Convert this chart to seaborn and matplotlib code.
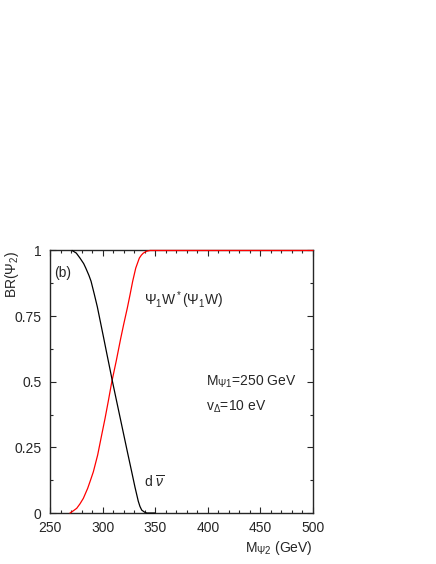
"""
Branching ratios of Psi_2 versus its mass (panel b).
"""

import matplotlib
matplotlib.use('Agg')
import matplotlib.pyplot as plt
from matplotlib.ticker import MultipleLocator
import pandas as pd
import seaborn as sns

# values
mass_red = [269, 272, 275.4, 278.5, 281.7, 285.8, 288.5, 291.2, 295.3, 299, 302.3, 305.5, 308.6,
            313, 317.2, 320, 323.5, 326, 328.6, 331.5, 334.9, 336.8, 338.7, 341.9, 345, 348, 500]
br_psi1_w = [0.0, 0.008, 0.018, 0.035, 0.056, 0.094, 0.125, 0.157, 0.221, 0.295, 0.36, 0.428, 0.497,
             0.58, 0.665, 0.718, 0.781, 0.83, 0.883, 0.933, 0.971, 0.982, 0.990, 0.997, 1.0, 1.0, 1.0]

mass_black = [271, 275, 278.5, 282, 284, 287, 289, 292, 295, 298, 301, 304, 307, 309.3, 313, 316.5,
              320, 323.5, 327.6, 330.8, 333.9, 335.5, 337.2, 340, 342, 350]
br_d_nubar = [1.0, 0.99, 0.971, 0.95, 0.933, 0.905, 0.883, 0.835, 0.785, 0.726, 0.667, 0.607, 0.548,
              0.502, 0.432, 0.366, 0.300, 0.234, 0.158, 0.098, 0.045, 0.025, 0.011, 0.003, 0.0, 0.0]

x_ticks = [250, 300, 350, 400, 450, 500]
y_ticks = [0, 0.25, 0.5, 0.75, 1]
y_tick_labels = ['0', '0.25', '0.5', '0.75', '1']

sns.set_style('ticks')
plt.rcParams['font.family'] = ['Liberation Sans', 'DejaVu Sans']
plt.rcParams['mathtext.fontset'] = 'custom'
plt.rcParams['mathtext.rm'] = 'Liberation Sans'
plt.rcParams['mathtext.it'] = 'Liberation Sans:italic'
plt.rcParams['mathtext.default'] = 'regular'

fig = plt.figure(figsize=(4.36, 5.64), dpi=100)
ax = fig.add_axes([0.1147, 0.0904, 0.6032, 0.4655])

df_red = pd.DataFrame({'mass': mass_red, 'br': br_psi1_w})
df_black = pd.DataFrame({'mass': mass_black, 'br': br_d_nubar})
sns.lineplot(data=df_red, x='mass', y='br', ax=ax, color='red', lw=0.9, zorder=3, clip_on=False)
sns.lineplot(data=df_black, x='mass', y='br', ax=ax, color='black', lw=0.9, zorder=3, clip_on=False)

ax.set_xlim(250, 500)
ax.set_ylim(0, 1)
ax.set_xticks(x_ticks)
ax.set_yticks(y_ticks)
ax.set_yticklabels(y_tick_labels)
ax.xaxis.set_minor_locator(MultipleLocator(10))
ax.yaxis.set_minor_locator(MultipleLocator(0.125))
ax.tick_params(which='both', direction='in', top=True, right=True, labelsize=10, width=0.8, pad=6)
ax.tick_params(which='major', length=4.5)
ax.tick_params(which='minor', length=2.2)
for s in ax.spines.values():
    s.set_linewidth(1.0)

ax.set_xlabel(r'M$_{\Psi2}$ (GeV)', fontsize=10)
ax.xaxis.set_label_coords(1.0, -0.10)
ax.xaxis.label.set_horizontalalignment('right')
ax.set_ylabel(r'BR($\Psi_2$)', fontsize=10)
ax.yaxis.set_label_coords(-0.145, 1.0)
ax.yaxis.label.set_verticalalignment('center')
ax.yaxis.label.set_horizontalalignment('right')

ax.text(262, 0.915, '(b)', fontsize=10, ha='center', va='center')
ax.text(339, 0.81, r'$\Psi_1$W$^*$($\Psi_1$W)', fontsize=10, va='center')
ax.text(398, 0.50, r'M$_{\Psi1}$=250 GeV', fontsize=10, va='center')
ax.text(398, 0.405, r'v$_\Delta$=10 eV', fontsize=10, va='center')
ax.text(339, 0.115, r'd $\overline{\mathit{\nu}}$', fontsize=10, va='center')

fig.savefig('out.png', dpi=100)
